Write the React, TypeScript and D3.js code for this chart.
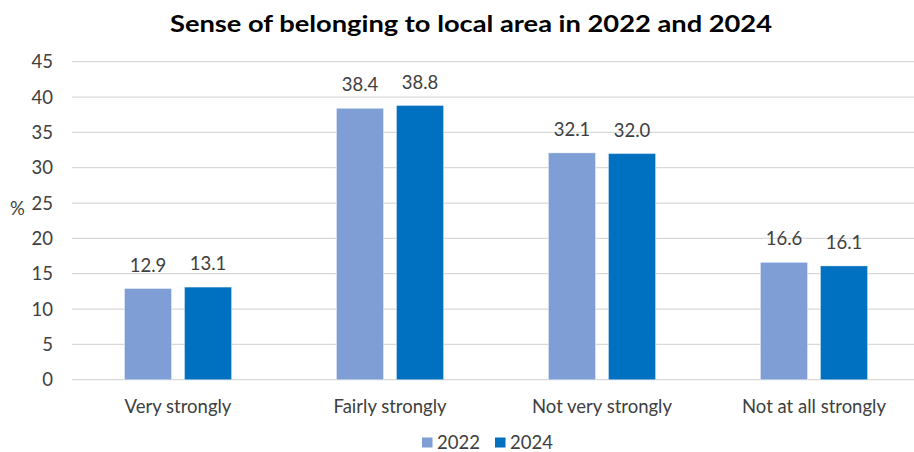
import React from "react";
import * as d3 from "d3";

const categories = ["Very strongly", "Fairly strongly", "Not very strongly", "Not at all strongly"];
const seriesNames = ["2022", "2024"];
const values2022 = [12.9, 38.4, 32.1, 16.6];
const values2024 = [13.1, 38.8, 32.0, 16.1];
const yTicks = [0, 5, 10, 15, 20, 25, 30, 35, 40, 45];
const title = "Sense of belonging to local area in 2022 and 2024";

const colors = ["#7F9ED6", "#0070C0"];
const FONT = "Lato, 'Open Sans', sans-serif";

export default function App() {
  const W = 914, H = 452;
  const left = 72, right = 920, top = 61.7, bottom = 379.7;
  const x = d3.scaleBand<string>().domain(categories).range([left, right]).paddingInner(0.495).paddingOuter(0.2476);
  const xs = d3.scaleBand<string>().domain(seriesNames).range([0, x.bandwidth()]).paddingInner(0.2167).paddingOuter(0);
  const y = d3.scaleLinear().domain([0, 45]).range([bottom, top]);
  const series = [values2022, values2024];
  const textColor = "#404040";
  const fs = 18.5;

  return (
    <>
      <style>{`body{margin:0}`}</style>
      <svg width={W} height={H} style={{ display: "block", fontFamily: FONT }}>
        <rect width={W} height={H} fill="#fff" />
        <text x={471} y={32} textAnchor="middle" fontSize={22.5} fontWeight={700} fill="#000" textLength={602} lengthAdjust="spacingAndGlyphs">{title}</text>
        {yTicks.map((t) => (
          <g key={t}>
            <line x1={left} x2={right} y1={y(t)} y2={y(t)} stroke="#D9D9D9" strokeWidth={1.3} />
            <text x={53} y={y(t)} dy="0.36em" textAnchor="end" fontSize={fs} fill={textColor}>{t}</text>
          </g>
        ))}
        <text x={17.5} y={215} textAnchor="middle" fontSize={fs} fill={textColor}>%</text>
        {categories.map((c, i) => (
          <g key={c} transform={`translate(${x(c)},0)`}>
            {seriesNames.map((s, j) => {
              const v = series[j][i];
              const bx = xs(s)!;
              return (
                <g key={s}>
                  <rect x={bx} y={y(v)} width={xs.bandwidth()} height={y(0) - y(v)} fill={colors[j]} stroke="#ffffff" strokeOpacity={0.35} strokeWidth={1} />
                  <text x={bx + xs.bandwidth() / 2} y={y(v) - 17} textAnchor="middle" fontSize={fs} fill={textColor}>{v.toFixed(1)}</text>
                </g>
              );
            })}
            <text x={x.bandwidth() / 2} y={413} textAnchor="middle" fontSize={fs} fill={textColor}>{c}</text>
          </g>
        ))}
        {seriesNames.map((s, j) => {
          const lx = j === 0 ? 422 : 495;
          return (
            <g key={s}>
              <rect x={lx} y={437.5} width={10.5} height={10} fill={colors[j]} />
              <text x={lx + 15} y={448.5} fontSize={fs} fill={textColor}>{s}</text>
            </g>
          );
        })}
      </svg>
    </>
  );
}
